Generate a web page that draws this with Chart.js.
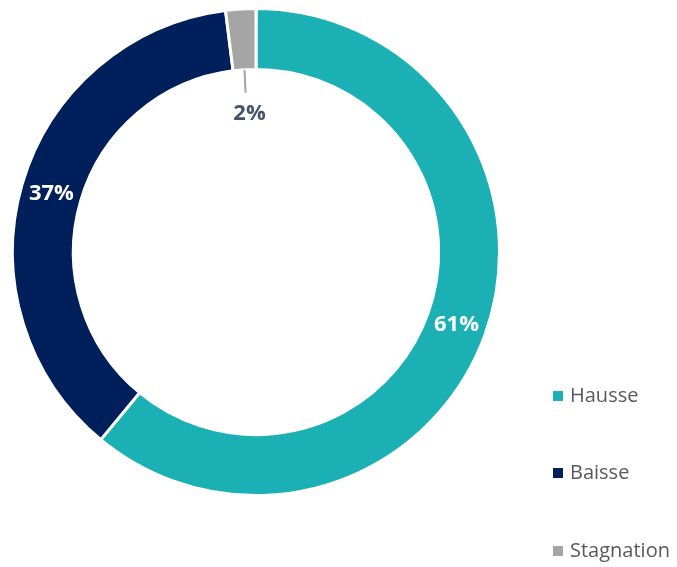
<!DOCTYPE html>
<html>
<head>
<meta charset="utf-8">
<script src="https://cdn.jsdelivr.net/npm/chart.js@4/dist/chart.umd.min.js"></script>
<style>
  html, body { margin: 0; padding: 0; background: #fff; }
  #wrap { width: 677px; height: 567px; position: relative; }
</style>
</head>
<body>
<div id="wrap"><canvas id="ring"></canvas></div>
<script>
// Répartition des tendances
const categories = ['Hausse', 'Baisse', 'Stagnation'];
const shares = [61, 37, 2];
const colors = ['#1BB0B4', '#001F5B', '#A5A5A5'];

const LABEL_FONT = 'bold 22px "Open Sans", Lato, sans-serif';
const LEGEND_FONT = '20px "Open Sans", Lato, sans-serif';

// percentage labels: inside the ring for big slices, pulled into the hole for tiny ones
const sliceLabels = {
  id: 'sliceLabels',
  afterDatasetsDraw(chart) {
    const ctx = chart.ctx;
    const meta = chart.getDatasetMeta(0);
    ctx.save();
    ctx.font = LABEL_FONT;
    ctx.textAlign = 'center';
    ctx.textBaseline = 'middle';
    meta.data.forEach((arc, i) => {
      const v = shares[i];
      const { x, y, startAngle, endAngle, innerRadius, outerRadius } = arc.getProps(['x','y','startAngle','endAngle','innerRadius','outerRadius'], true);
      const mid = (startAngle + endAngle) / 2;
      if (v >= 5) {
        const r = (innerRadius + outerRadius) / 2;
        ctx.fillStyle = '#ffffff';
        ctx.fillText(v + '%', x + Math.cos(mid) * r, y + Math.sin(mid) * r + 1);
      } else {
        const r0 = innerRadius;
        const sx = x + Math.cos(mid) * r0, sy = y + Math.sin(mid) * r0;
        ctx.strokeStyle = '#A5A5A5';
        ctx.lineWidth = 2;
        ctx.beginPath();
        ctx.moveTo(sx, sy);
        ctx.lineTo(sx + 1, sy + 23);
        ctx.stroke();
        ctx.fillStyle = '#44546A';
        ctx.fillText(v + '%', sx + 5, sy + 44);
      }
    });
    ctx.restore();
  }
};

// legend stacked in the bottom-right corner
const cornerLegend = {
  id: 'cornerLegend',
  afterDraw(chart) {
    const ctx = chart.ctx;
    const rows = [396, 473, 551];
    ctx.save();
    ctx.font = LEGEND_FONT;
    ctx.textBaseline = 'middle';
    ctx.textAlign = 'left';
    chart.data.labels.forEach((lab, i) => {
      const y = rows[i];
      ctx.fillStyle = chart.data.datasets[0].backgroundColor[i];
      ctx.fillRect(553, y - 5, 10, 10);
      ctx.fillStyle = '#595959';
      ctx.fillText(lab, 570, y);
    });
    ctx.restore();
  }
};

new Chart(document.getElementById('ring'), {
  type: 'doughnut',
  data: {
    labels: categories,
    datasets: [{
      data: shares,
      backgroundColor: colors,
      borderColor: '#ffffff',
      borderWidth: 3
    }]
  },
  options: {
    responsive: true,
    maintainAspectRatio: false,
    animation: false,
    cutout: '75%',
    layout: { padding: { left: 11, top: 7, right: 176, bottom: 70 } },
    plugins: {
      legend: { display: false },
      tooltip: { enabled: false }
    }
  },
  plugins: [sliceLabels, cornerLegend]
});
</script>
</body>
</html>
